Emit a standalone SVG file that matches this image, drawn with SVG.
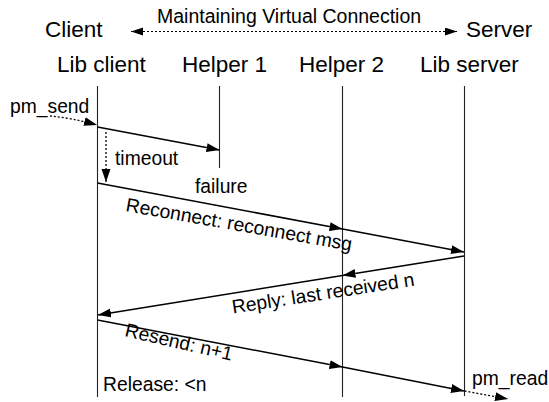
<svg xmlns="http://www.w3.org/2000/svg" width="549" height="402" viewBox="0 0 549 402">
<style>
text{font-family:"Liberation Sans",Arial,sans-serif;fill:#000}
.big{font-size:22.5px}
.lbl{font-size:19.3px}
.life{stroke:#222;stroke-width:1.1;fill:none}
.msg{stroke:#000;stroke-width:1.5;fill:none;marker-end:url(#ah)}
.dot{stroke:#000;stroke-width:1.3;stroke-dasharray:2,2;fill:none;marker-end:url(#ah)}
</style>
<defs>
<marker id="ah" markerUnits="userSpaceOnUse" markerWidth="14" markerHeight="10" refX="13" refY="4.5" orient="auto">
<path d="M0,0 L13,4.5 L0,9 z" fill="#000"/>
</marker>
<marker id="ahs" markerUnits="userSpaceOnUse" markerWidth="13" markerHeight="9" refX="12" refY="4" orient="auto-start-reverse">
<path d="M0,0 L12,4 L0,8 z" fill="#000"/>
</marker>
</defs>
<g id="header">
<text class="big" x="45" y="37">Client</text>
<text class="big" x="466" y="37">Server</text>
<text x="157" y="23" style="font-size:19.5px">Maintaining Virtual Connection</text>
</g>
<g id="libclient"><text class="big" x="57" y="72">Lib client</text><line class="life" x1="97.5" y1="86" x2="97.5" y2="397"/></g>
<g id="helper1"><text class="big" x="182" y="72">Helper 1</text><line class="life" x1="219.5" y1="86" x2="219.5" y2="168"/></g>
<g id="helper2"><text class="big" x="299" y="72">Helper 2</text><line class="life" x1="342.5" y1="86" x2="342.5" y2="397"/></g>
<g id="libserver"><text class="big" x="420" y="72">Lib server</text><line class="life" x1="464.5" y1="86" x2="464.5" y2="396"/></g>
<g id="connectors">
<line x1="131" y1="31.5" x2="457" y2="31.5" stroke="#000" stroke-width="1" stroke-dasharray="2,2" marker-start="url(#ahs)" marker-end="url(#ahs)"/>
<path class="dot" d="M50,116 Q72,118 97,125"/>
<line class="msg" x1="97.5" y1="127" x2="219.5" y2="150"/>
<line class="dot" x1="106" y1="132" x2="106" y2="182"/>
<line class="msg" x1="97.5" y1="183" x2="342.5" y2="229"/>
<line class="msg" x1="342.5" y1="229" x2="464" y2="252"/>
<line class="msg" x1="464" y1="256" x2="342.5" y2="275.5"/>
<line class="msg" x1="342.5" y1="275.5" x2="98" y2="315"/>
<line class="msg" x1="97.5" y1="320" x2="342.5" y2="367"/>
<line class="msg" x1="342.5" y1="367" x2="464" y2="391"/>
<line class="dot" x1="464.5" y1="391" x2="508" y2="399"/>
</g>
<g id="labels">
<text class="lbl" x="10" y="113">pm_send</text>
<text class="lbl" x="115" y="165">timeout</text>
<text class="lbl" x="195" y="193">failure</text>
<text class="lbl" transform="translate(125,211) rotate(10)">Reconnect: reconnect msg</text>
<text class="lbl" transform="translate(233,313.5) rotate(-8.7)">Reply: last received n</text>
<text class="lbl" transform="translate(124,336) rotate(13)">Resend: n+1</text>
<text class="lbl" x="103" y="391">Release: &lt;n</text>
<text class="lbl" x="472" y="385">pm_read</text>
</g>
</svg>
